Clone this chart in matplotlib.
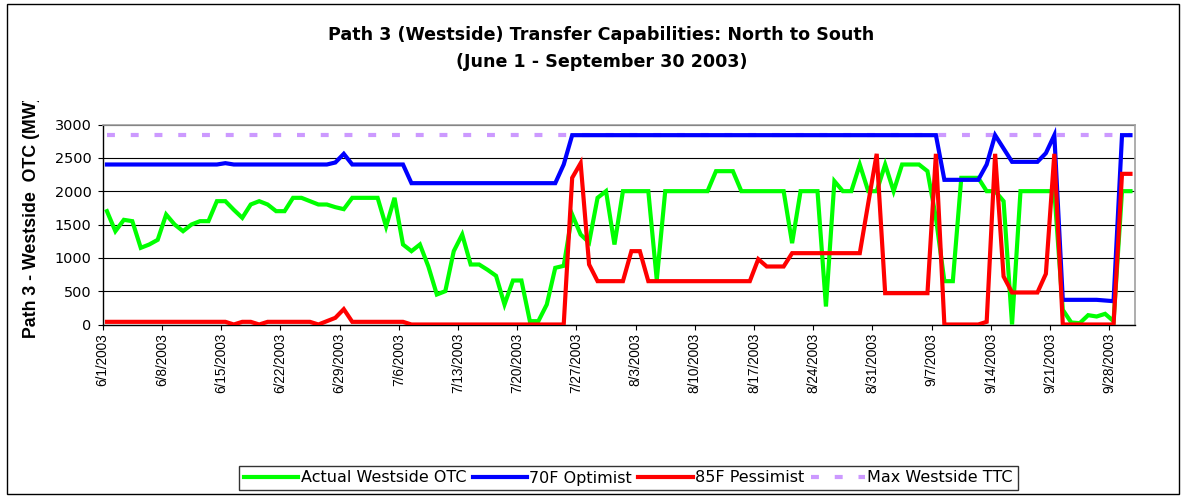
import matplotlib
matplotlib.use("Agg")
import matplotlib.pyplot as plt
import numpy as np
from matplotlib.transforms import Bbox, TransformedBbox
from matplotlib.patches import Rectangle

# ---------------- data ----------------
tick_labels = ["6/1/2003", "6/8/2003", "6/15/2003", "6/22/2003", "6/29/2003",
               "7/6/2003", "7/13/2003", "7/20/2003", "7/27/2003", "8/3/2003",
               "8/10/2003", "8/17/2003", "8/24/2003", "8/31/2003", "9/7/2003",
               "9/14/2003", "9/21/2003", "9/28/2003"]

actual_otc = ([1700, 1400, 1570, 1550, 1150, 1200, 1270, 1650, 1500, 1400,
               1500, 1550, 1550, 1850, 1850, 1720, 1600, 1800, 1850, 1800,
               1700, 1700, 1900, 1900, 1850, 1800, 1800, 1760, 1730, 1900,
               1900, 1900, 1900, 1470, 1900, 1200, 1100, 1200, 870, 450,
               500, 1100, 1350, 900, 900, 820, 730, 300, 660, 660,
               50, 50, 300, 850, 880, 1650, 1350, 1230, 1900, 2000,
               1200]
              + [2000] * 4 + [670] + [2000] * 6 + [2300] * 3 + [2000] * 6
              + [1220] + [2000] * 3
              + [270, 2150, 2000, 2000, 2400, 2000, 2000, 2400, 2000, 2400,
                 2400, 2400, 2300, 1600, 650, 650, 2200, 2200, 2200, 2000,
                 2000, 1850, 0]
              + [2000] * 5
              + [220, 30, 20, 140, 120, 160, 50, 2000, 2000])

optimist_70f = ([2400] * 14 + [2420] + [2400] * 12 + [2430, 2560] + [2400] * 7
                + [2120] * 18 + [2400] + [2840] * 44 + [2170] * 5
                + [2400, 2840, 2640] + [2440] * 4 + [2570, 2840]
                + [370] * 5 + [360, 350, 2840, 2840])

pessimist_85f = ([40] * 15 + [0] + [40] * 2 + [0] + [40] * 6 + [0, 50, 100, 230]
                 + [40] * 7 + [0] * 19 + [2200, 2420, 900] + [650] * 4
                 + [1100, 1100] + [650] * 13 + [980] + [870] * 3 + [1070] * 9
                 + [1820, 2560] + [470] * 6 + [2560] + [0] * 5
                 + [40, 2560, 720] + [480] * 4 + [760, 2560] + [0] * 7
                 + [2260, 2260])

max_ttc = 2840

n = len(actual_otc)
x = np.arange(n)

# ---------------- figure ----------------
W, H = 1185, 496
fig = plt.figure(figsize=(W / 100, H / 100), dpi=100)
fig.patch.set_facecolor("white")

def fx(px):
    return px / W

def fy(py):
    return 1 - py / H

ax_l, ax_r, ax_t, ax_b = 102.7, 1134.7, 124.5, 324.5
ax = fig.add_axes([fx(ax_l), fy(ax_b), fx(ax_r - ax_l), (ax_b - ax_t) / H])

ax.plot(x, actual_otc, color="#00FF00", lw=3.0, solid_joinstyle="miter", zorder=3,
        label="Actual Westside OTC")
ax.plot(x, optimist_70f, color="#0000FF", lw=3.0, solid_joinstyle="miter", zorder=3,
        label="70F Optimist")
ax.plot(x, pessimist_85f, color="#FF0000", lw=3.0, solid_joinstyle="miter", zorder=4,
        label="85F Pessimist")
ax.plot(x, [max_ttc] * n, color="#CC99FF", lw=3.0, linestyle=(0, (1.9, 3.8)),
        dash_capstyle="butt", zorder=2, label="Max Westside TTC")

ax.set_xlim(-0.5, n - 0.5)
ax.set_ylim(0, 3000)
ax.set_yticks(np.arange(0, 3001, 500))
ax.yaxis.grid(True, color="black", lw=0.8)
ax.set_axisbelow(True)

tick_pos = np.arange(len(tick_labels)) * 7 - 0.5
ax.set_xticks(tick_pos)
ax.set_xticklabels(tick_labels, rotation=90, family="Liberation Sans", fontsize=9.8)
ax.tick_params(axis="x", direction="out", length=3.6, width=0.8, pad=2.5)
ax.tick_params(axis="y", direction="out", length=3.6, width=0.8, pad=4.5,
               labelsize=10.4)

for s in ["left", "bottom"]:
    ax.spines[s].set_color("black")
    ax.spines[s].set_linewidth(1.0)
for s in ["top", "right"]:
    ax.spines[s].set_color("#A0A0A0")
    ax.spines[s].set_linewidth(1.2)

# title
fig.text(0.5 * (fx(328) + fx(875)), fy(35), "Path 3 (Westside) Transfer Capabilities: North to South",
         ha="center", va="center", fontsize=12.6, fontweight="bold")
fig.text(0.5 * (fx(328) + fx(875)), fy(62), "(June 1 - September 30 2003)",
         ha="center", va="center", fontsize=12.6, fontweight="bold")

# y label, clipped at top like the reference
yl = fig.text(fx(32), fy(338), "Path 3 - Westside  OTC (MW)", rotation=90,
              ha="center", va="bottom", fontsize=12.8, fontweight="bold",
              family="Liberation Sans")
yl.set_clip_box(TransformedBbox(Bbox([[0, 0], [1, fy(101)]]), fig.transFigure))
yl.set_clip_on(True)

# legend
leg = fig.legend(loc="center", bbox_to_anchor=(0.5 * (fx(237) + fx(1020)), fy(478)),
                 ncol=4, frameon=True, fancybox=False, fontsize=11.5,
                 handlelength=3.4, handletextpad=0.15, columnspacing=0.4,
                 borderpad=0.3, borderaxespad=0)
leg.get_frame().set_edgecolor("black")
leg.get_frame().set_linewidth(1.0)

# outer chart border
fig.patches.append(Rectangle((fx(7), fy(494)), fx(1179 - 7), (494 - 4) / H,
                             transform=fig.transFigure, fill=False,
                             edgecolor="black", lw=1.0))

fig.savefig("out.png", dpi=100)
